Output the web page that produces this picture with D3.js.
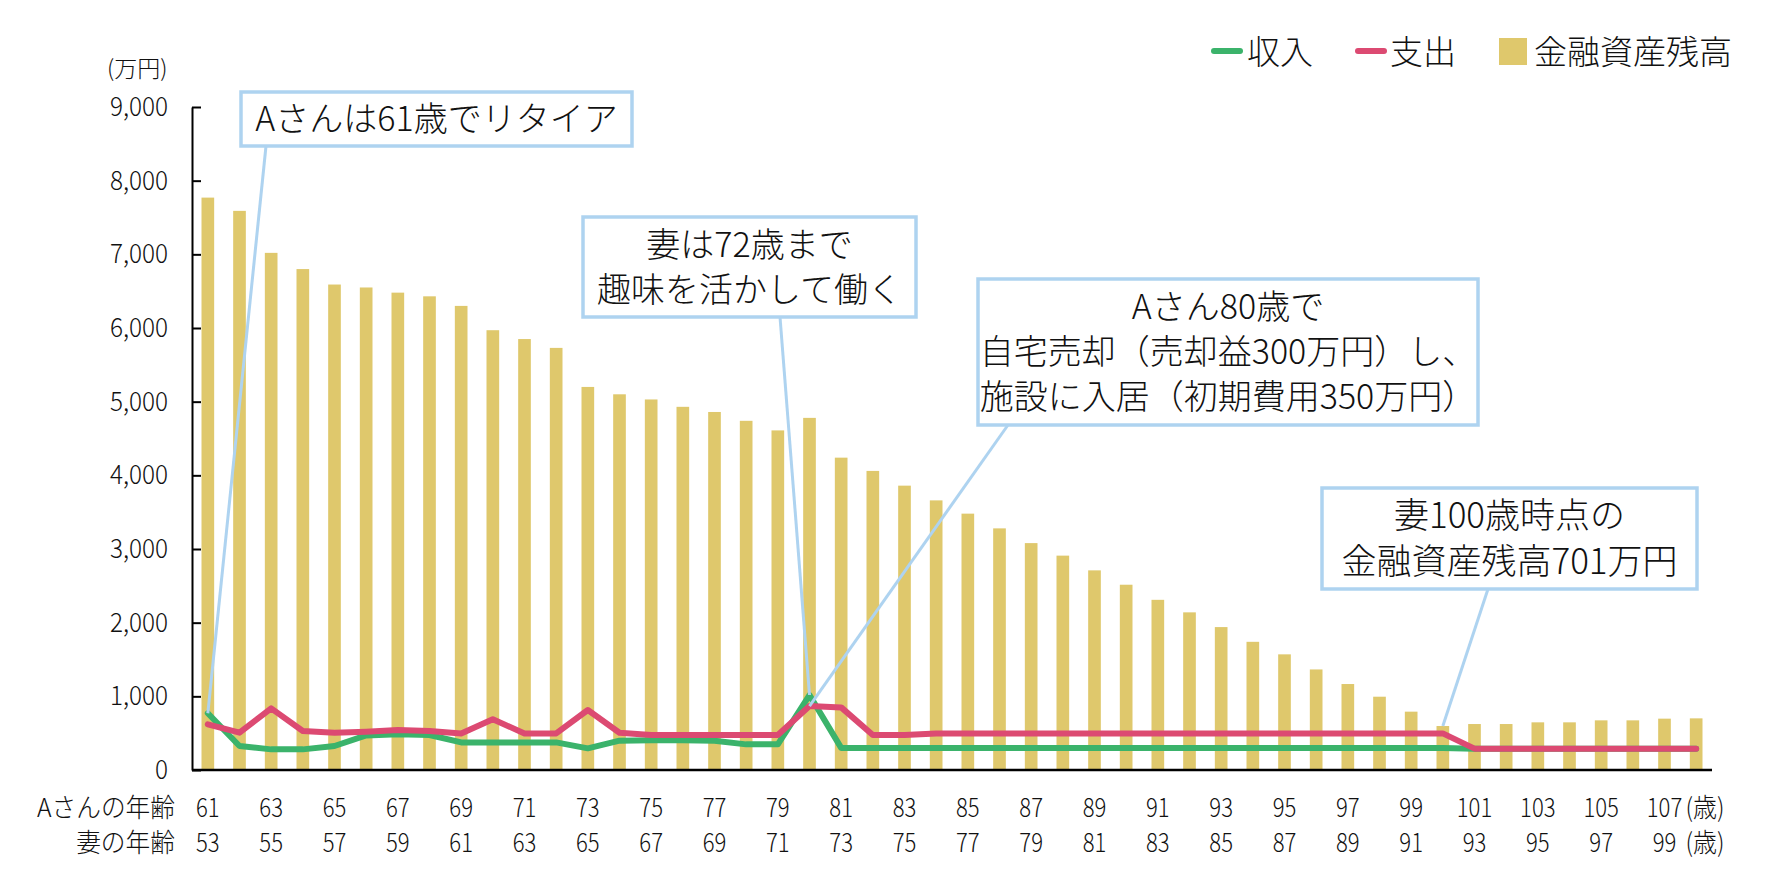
<!DOCTYPE html>
<html><head><meta charset="utf-8">
<script src="https://cdn.jsdelivr.net/npm/d3@7"></script>
<style>
html,body{margin:0;padding:0;background:#fff;}
svg{display:block;font-family:"Noto Sans CJK JP","Noto Sans",sans-serif;font-weight:300;}
</style></head><body>
<svg id="chart" width="1780" height="890"></svg>
<script>
// ---------------- data ----------------
const ages = [61,62,63,64,65,66,67,68,69,70,71,72,73,74,75,76,77,78,79,80,81,82,83,84,85,86,87,88,89,90,91,92,93,94,95,96,97,98,99,100,101,102,103,104,105,106,107,108];
const assets = [7770,7590,7020,6800,6590,6550,6480,6430,6300,5970,5850,5730,5200,5100,5030,4930,4860,4740,4610,4780,4240,4060,3860,3660,3480,3280,3080,2910,2710,2515,2310,2140,1940,1740,1570,1365,1167,995,792,597,624,624,647,647,674,674,697,701];
const income = [770,326,280,280,326,470,484,475,375,375,375,375,294,398,403,403,398,348,348,1018,300,300,300,300,300,300,300,300,300,300,300,300,300,300,300,300,300,300,300,300,290,290,290,290,290,290,290,290];
const expense = [620,506,837,529,506,520,543,529,497,688,497,497,814,506,475,475,475,475,475,868,850,475,475,497,497,497,497,497,497,497,497,497,497,497,497,497,497,497,497,497,290,290,290,290,290,290,290,290];
const yTicks = [0,1000,2000,3000,4000,5000,6000,7000,8000,9000];
const ageTickLabels = [61,63,65,67,69,71,73,75,77,79,81,83,85,87,89,91,93,95,97,99,101,103,105,107];
const wifeTickLabels = [53,55,57,59,61,63,65,67,69,71,73,75,77,79,81,83,85,87,89,91,93,95,97,99];
const seriesNames = ["収入","支出","金融資産残高"];
const unitLabel = "(万円)";
const rowLabels = ["Aさんの年齢","妻の年齢"];
const ageUnit = "(歳)";
const noteTexts = [
  ["Aさんは61歳でリタイア"],
  ["妻は72歳まで","趣味を活かして働く"],
  ["Aさん80歳で","自宅売却（売却益300万円）し、","施設に入居（初期費用350万円）"],
  ["妻100歳時点の","金融資産残高701万円"]
];
const noteTargets = [ {age:61, series:"income"}, {age:80, series:"income"}, {age:80, series:"expense"}, {age:100, series:"assets"} ];

// ---------------- styles / layout ----------------
const C = { bar:"#dfc86c", green:"#3bb36b", red:"#dc4a72", blue:"#aed3f0", text:"#111" };
const svg = d3.select("#chart");
const x = d3.scaleBand().domain(ages).range([192,1712]).paddingInner(0.6).paddingOuter(0.3);
const y = d3.scaleLinear().domain([0,9000]).range([770,107]);
const cx = a => x(a) + x.bandwidth()/2;
const seriesMap = {assets, income, expense};

function condense(sel,k){
  sel.each(function(){ const w=this.getComputedTextLength(); this.setAttribute("textLength", w*k); this.setAttribute("lengthAdjust","spacingAndGlyphs"); });
}

// bars
svg.append("g").selectAll("rect").data(ages).join("rect")
  .attr("x", d=>x(d)).attr("width", x.bandwidth())
  .attr("y", (d,i)=>y(assets[i])).attr("height", (d,i)=>y(0)-y(assets[i]))
  .attr("fill", C.bar);

// lines
const line = d3.line().x((d,i)=>cx(ages[i])).y(d=>y(d));
svg.append("path").datum(income).attr("d", line).attr("fill","none").attr("stroke",C.green).attr("stroke-width",6).attr("stroke-linejoin","round").attr("stroke-linecap","round");
svg.append("path").datum(expense).attr("d", line).attr("fill","none").attr("stroke",C.red).attr("stroke-width",6).attr("stroke-linejoin","round").attr("stroke-linecap","round");

// y axis
const gy = svg.append("g").attr("transform","translate(192,0)")
  .call(d3.axisLeft(y).tickValues(yTicks).tickFormat(d3.format(",")).tickSizeInner(-9).tickSizeOuter(0).tickPadding(24));
gy.select(".domain").attr("stroke","#000").attr("stroke-width",2);
gy.selectAll(".tick line").attr("stroke","#000").attr("stroke-width",2);
gy.selectAll(".tick text").attr("font-size",27).attr("fill",C.text).attr("font-family",'"Noto Sans CJK JP",sans-serif').attr("font-weight",300);
condense(gy.selectAll(".tick text"),0.9);

// x baseline
svg.append("line").attr("x1",x.range()[0]).attr("x2",x.range()[1]).attr("y1",y(0)).attr("y2",y(0)).attr("stroke","#000").attr("stroke-width",2.5);

// unit label
svg.append("text").attr("x",107).attr("y",77).attr("font-size",23).attr("fill",C.text).text(unitLabel);

// bottom labels
const gx1 = svg.append("g").attr("transform",`translate(0,${y(0)})`)
  .call(d3.axisBottom(x).tickValues(ageTickLabels).tickSize(0));
gx1.select(".domain").remove();
gx1.selectAll(".tick text").attr("y",47).attr("dy",0).attr("font-size",26).attr("fill",C.text).attr("font-family",'"Noto Sans CJK JP",sans-serif').attr("font-weight",300);
condense(gx1.selectAll(".tick text"),0.85);

const gx2 = svg.append("g").attr("transform",`translate(0,${y(0)})`)
  .call(d3.axisBottom(x).tickValues(ageTickLabels).tickSize(0).tickFormat((d,i)=>wifeTickLabels[i]));
gx2.select(".domain").remove();
gx2.selectAll(".tick text").attr("y",82).attr("dy",0).attr("font-size",26).attr("fill",C.text).attr("font-family",'"Noto Sans CJK JP",sans-serif').attr("font-weight",300);
condense(gx2.selectAll(".tick text"),0.85);

// row labels
rowLabels.forEach((t,i)=>{
  const el = svg.append("text").attr("x",175).attr("y",[817,852][i]).attr("text-anchor","end").attr("font-size",26).attr("fill",C.text).text(t);
  condense(el,0.95);
  const u = svg.append("text").attr("x",cx(107)+21).attr("y",[817,852][i]).attr("font-size",26).attr("fill",C.text).text(ageUnit);
  condense(u,0.92);
});

// legend
const lg = svg.append("g");
lg.append("line").attr("x1",1214).attr("x2",1240).attr("y1",51).attr("y2",51).attr("stroke",C.green).attr("stroke-width",6).attr("stroke-linecap","round");
lg.append("text").attr("x",1247).attr("y",64).attr("font-size",33).attr("fill",C.text).text(seriesNames[0]);
lg.append("line").attr("x1",1358).attr("x2",1384).attr("y1",51).attr("y2",51).attr("stroke",C.red).attr("stroke-width",6).attr("stroke-linecap","round");
lg.append("text").attr("x",1390).attr("y",64).attr("font-size",33).attr("fill",C.text).text(seriesNames[1]);
lg.append("rect").attr("x",1499).attr("y",38).attr("width",28).attr("height",27).attr("fill",C.bar);
lg.append("text").attr("x",1534).attr("y",64).attr("font-size",33).attr("fill",C.text).text(seriesNames[2]);

// annotations
const boxes = [
  {x0:241,y0:92,x1:632,y1:146, px:266, py:146, base:[131], fs:34},
  {x0:583,y0:217,x1:916,y1:317, px:780, py:317, base:[257,302], fs:34},
  {x0:978,y0:279,x1:1478,y1:425, px:1008, py:425, base:[319,364,409], fs:34},
  {x0:1322,y0:488,x1:1697,y1:589, px:1488, py:589, base:[528,574], fs:35}
];
const ga = svg.append("g");
boxes.forEach((b,i)=>{
  const t = noteTargets[i];
  const idx = ages.indexOf(t.age);
  ga.append("line").attr("x1",b.px).attr("y1",b.py).attr("x2",cx(t.age)).attr("y2",y(seriesMap[t.series][idx]))
    .attr("stroke",C.blue).attr("stroke-width",3);
});
boxes.forEach((b,i)=>{
  ga.append("rect").attr("x",b.x0).attr("y",b.y0).attr("width",b.x1-b.x0).attr("height",b.y1-b.y0)
    .attr("fill","#fff").attr("stroke",C.blue).attr("stroke-width",3.5);
  noteTexts[i].forEach((ln,j)=>{
    ga.append("text").attr("x",(b.x0+b.x1)/2).attr("y",b.base[j]).attr("text-anchor","middle")
      .attr("font-size",b.fs).attr("fill",C.text).text(ln);
  });
});
</script>
</body></html>
